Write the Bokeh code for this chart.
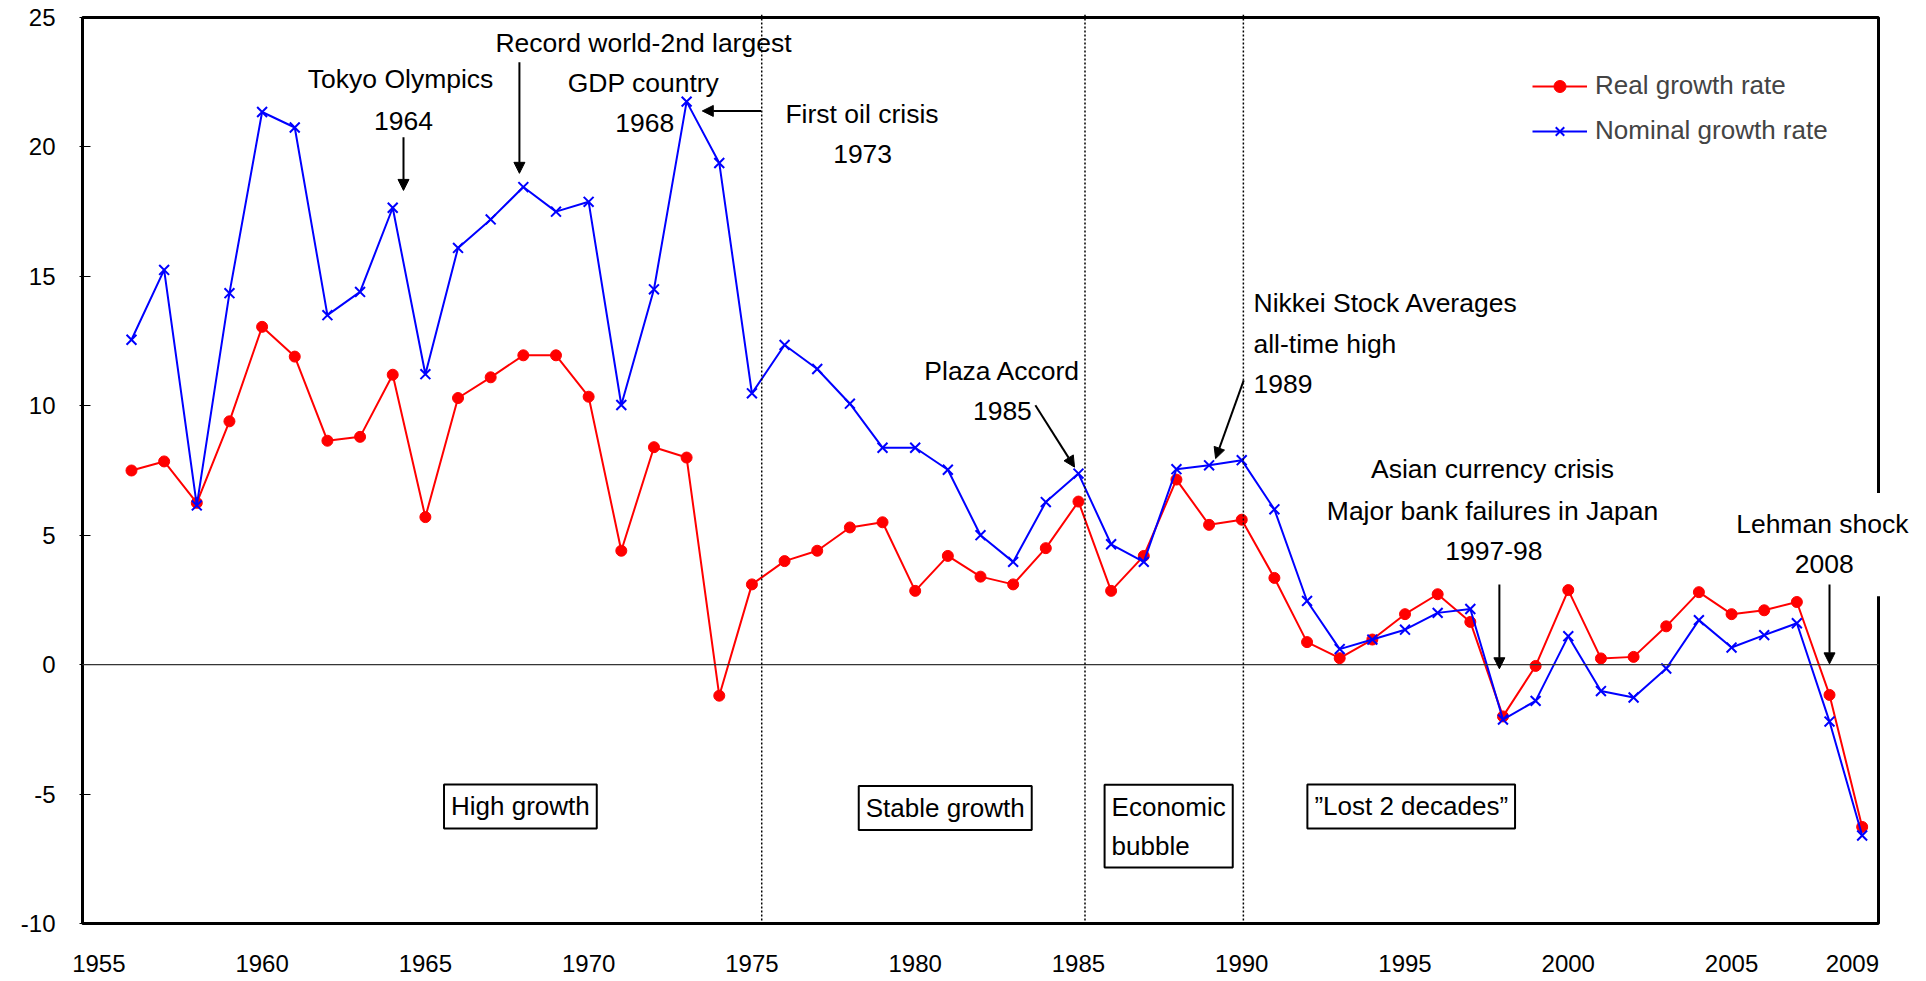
from bokeh.plotting import figure
from bokeh.models import (Range1d, Span, Label, Arrow, NormalHead, Legend, LegendItem,
                          FixedTicker, BoxAnnotation, ColumnDataSource)
from bokeh.embed import file_html
from bokeh.resources import INLINE

# ---------------- data ----------------
years = list(range(1956, 2010))
real_growth = [7.5, 7.85, 6.25, 9.4, 13.05, 11.9, 8.65, 8.8, 11.2, 5.7,
               10.3, 11.1, 11.95, 11.95, 10.35, 4.4, 8.4, 8.0, -1.2, 3.1,
               4.0, 4.4, 5.3, 5.5, 2.85, 4.2, 3.4, 3.1, 4.5, 6.3,
               2.85, 4.2, 7.15, 5.4, 5.6, 3.35, 0.87, 0.25, 0.97, 1.95,
               2.72, 1.65, -2.0, -0.05, 2.88, 0.24, 0.3, 1.48, 2.8, 1.95,
               2.1, 2.42, -1.17, -6.27]
nominal_growth = [12.55, 15.25, 6.15, 14.35, 21.35, 20.75, 13.5, 14.4, 17.65, 11.22,
                  16.1, 17.2, 18.45, 17.5, 17.88, 10.03, 14.5, 21.75, 19.38, 10.48,
                  12.35, 11.42, 10.08, 8.38, 8.38, 7.53, 5.0, 3.97, 6.28, 7.38,
                  4.65, 3.97, 7.55, 7.7, 7.9, 6.0, 2.46, 0.6, 0.97, 1.35,
                  2.0, 2.15, -2.12, -1.4, 1.1, -1.02, -1.27, -0.15, 1.72, 0.66,
                  1.14, 1.6, -2.2, -6.6]
x_tick_labels = ["1955", "1960", "1965", "1970", "1975", "1980", "1985", "1990",
                 "1995", "2000", "2005", "2009"]
x_tick_pos = [1955, 1960, 1965, 1970, 1975, 1980, 1985, 1990, 1995, 2000, 2005, 2008.7]
y_ticks = [-10, -5, 0, 5, 10, 15, 20, 25]
series_names = ["Real growth rate", "Nominal growth rate"]

# chart box (axis extent) and period dividers (years)
box_x = (1954.5, 2009.5)
box_y = (-10, 25)
dividers = [1975.3, 1985.2, 1990.05]

# event annotations: (text, x, y, align)
event_texts = [
    ("Tokyo Olympics", 1964.24, 22.62, "center"),
    ("1964", 1964.33, 21.00, "center"),
    ("Record world-2nd largest", 1971.68, 24.02, "center"),
    ("GDP country", 1971.68, 22.48, "center"),
    ("1968", 1971.72, 20.93, "center"),
    ("First oil crisis", 1978.37, 21.27, "center"),
    ("1973", 1978.39, 19.72, "center"),
    ("Plaza Accord", 1982.67, 11.34, "center"),
    ("1985", 1982.67, 9.79, "center"),
    ("Nikkei Stock Averages", 1990.36, 13.98, "left"),
    ("all-time high", 1990.36, 12.37, "left"),
    ("1989", 1990.36, 10.83, "left"),
    ("Asian currency crisis", 1997.68, 7.54, "center"),
    ("Major bank failures in Japan", 1997.68, 5.93, "center"),
    ("1997-98", 1997.72, 4.38, "center"),
    ("Lehman shock", 2007.78, 5.42, "center"),
    ("2008", 2007.84, 3.88, "center"),
]
# arrows: (x_start, y_start, x_end, y_end)
event_arrows = [
    (1964.33, 20.37, 1964.33, 18.32),
    (1967.88, 23.27, 1967.88, 18.98),
    (1975.28, 21.39, 1973.48, 21.39),
    (1983.68, 10.02, 1984.88, 7.63),
    (1990.06, 10.98, 1989.20, 7.96),
    (1997.89, 3.10, 1997.89, -0.16),
    (2008.00, 3.10, 2008.00, 0.03),
]
# period boxes: (text, x, y, align)
period_boxes = [
    ("High growth", 1967.91, -5.48, "center"),
    ("Stable growth", 1980.92, -5.54, "center"),
    ("Economic\nbubble", 1985.80, -6.24, "left"),
    ("\u201dLost 2 decades\u201d", 1995.19, -5.48, "center"),
]

FONT = "Liberation Sans"

# ---------------- figure ----------------
p = figure(width=1926, height=981,
           x_range=Range1d(1954.408, 2010.97), y_range=Range1d(-10.116, 25.116),
           output_backend="svg", toolbar_location=None,
           min_border_left=79, min_border_right=0, min_border_top=14, min_border_bottom=55)
p.grid.visible = False
p.outline_line_color = None
p.background_fill_color = "white"
p.border_fill_color = "white"

p.xaxis.ticker = FixedTicker(ticks=x_tick_pos)
p.xaxis.major_label_overrides = dict(zip(x_tick_pos, x_tick_labels))
p.xaxis.axis_line_color = None
p.xaxis.major_tick_line_color = None
p.xaxis.major_tick_in = 0
p.xaxis.major_tick_out = 0
p.xaxis.minor_tick_line_color = None
p.xaxis.major_label_standoff = 28
p.xaxis.major_label_text_font = FONT
p.xaxis.major_label_text_font_size = "24px"
p.xaxis.major_label_text_color = "black"

p.yaxis.ticker = FixedTicker(ticks=y_ticks)
p.yaxis.major_label_overrides = {t: str(t) for t in y_ticks}
p.yaxis.axis_line_color = None
p.yaxis.major_tick_in = 11
p.yaxis.major_tick_out = 0
p.yaxis.major_tick_line_color = "black"
p.yaxis.major_tick_line_width = 1
p.yaxis.minor_tick_line_color = None
p.yaxis.major_label_standoff = 24
p.yaxis.major_label_text_font = FONT
p.yaxis.major_label_text_font_size = "24px"
p.yaxis.major_label_text_color = "black"

# chart frame
p.add_layout(BoxAnnotation(left=box_x[0], right=box_x[1], bottom=box_y[0], top=box_y[1],
                           fill_alpha=0, line_color="black", line_alpha=1, line_width=3))
# zero line
p.add_layout(BoxAnnotation(left=box_x[0], right=box_x[1], bottom=0, top=0,
                           fill_alpha=0, line_color="#333333", line_alpha=1, line_width=1))
for d in dividers:
    p.add_layout(Span(location=d, dimension="height", line_color="black",
                      line_width=1.5, line_dash="2 2"))

src = ColumnDataSource(dict(year=years, real=real_growth, nominal=nominal_growth))
rl = p.line("year", "real", source=src, line_color="#FF0000", line_width=2)
rs = p.scatter("year", "real", source=src, marker="circle", size=11,
               fill_color="#FF0000", line_color="#FF0000")
nl = p.line("year", "nominal", source=src, line_color="#0000FF", line_width=2)
ns = p.scatter("year", "nominal", source=src, marker="x", size=14,
               line_color="#0000FF", line_width=2)

legend = Legend(items=[LegendItem(label=series_names[0], renderers=[rl, rs]),
                       LegendItem(label=series_names[1], renderers=[nl, ns])],
                location=(1453, 780), padding=0, margin=0, spacing=14,
                glyph_width=55, glyph_height=30, label_height=30, label_standoff=8,
                label_text_font=FONT, label_text_font_size="26px",
                border_line_color=None, background_fill_alpha=0)
p.add_layout(legend)

# white gap in the right frame border behind the Lehman text
p.add_layout(BoxAnnotation(left=2009.35, right=2009.65, top=6.63, bottom=2.64,
                           fill_color="white", fill_alpha=1, line_color=None, line_alpha=0))

for txt, x, y, al in event_texts:
    p.add_layout(Label(x=x, y=y, text=txt, text_align=al, text_baseline="alphabetic",
                       text_font=FONT, text_font_size="26.5px", text_color="black"))

for xs, ys, xe, ye in event_arrows:
    p.add_layout(Arrow(x_start=xs, y_start=ys, x_end=xe, y_end=ye, line_width=2,
                       line_color="black",
                       end=NormalHead(size=11, fill_color="black", line_color="black")))

for txt, x, y, al in period_boxes:
    p.add_layout(Label(x=x, y=y, text=txt, text_align=al, text_baseline="middle",
                       text_font=FONT, text_font_size="26px", text_color="black",
                       text_line_height=1.29,
                       background_fill_color="white", border_line_color="black",
                       border_line_width=2, padding=7))

open("out.html", "w").write(file_html(p, INLINE))
